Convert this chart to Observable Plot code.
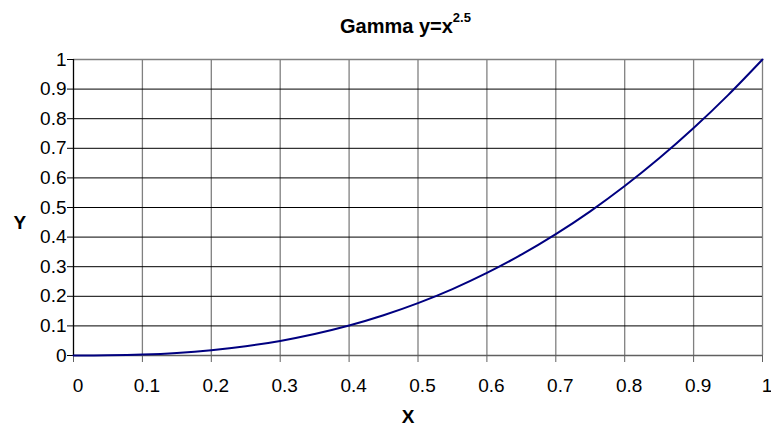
<!DOCTYPE html>
<html>
<head>
<meta charset="utf-8">
<script src="https://cdn.jsdelivr.net/npm/d3@7"></script>
<script src="https://cdn.jsdelivr.net/npm/@observablehq/plot@0.6"></script>
<style>
  html, body { margin: 0; padding: 0; background: #fff; }
  #chart { width: 771px; height: 429px; }
</style>
</head>
<body>
<div id="chart"></div>
<script>
const xs = [0, 0.05, 0.1, 0.15, 0.2, 0.25, 0.3, 0.35, 0.4, 0.45, 0.5, 0.55, 0.6, 0.65, 0.7, 0.75, 0.8, 0.85, 0.9, 0.95, 1];
const ys = [0, 0.0006, 0.0032, 0.0087, 0.0179, 0.0313, 0.0493, 0.0725, 0.1012, 0.1359, 0.1768, 0.2243, 0.2789, 0.3407, 0.41, 0.4871, 0.5724, 0.6661, 0.7684, 0.8797, 1];
const tickVals = [0, 0.1, 0.2, 0.3, 0.4, 0.5, 0.6, 0.7, 0.8, 0.9, 1];

const data = xs.map((x, i) => ({x, y: ys[i]}));
const fmt = d => d === 0 ? "0" : d === 1 ? "1" : d3.format(".1f")(d);
const FONT = "'Liberation Sans', Arial, sans-serif";

const plot = Plot.plot({
  width: 771,
  height: 429,
  marginLeft: 73,
  marginRight: 9,
  marginTop: 59,
  marginBottom: 74,
  style: {fontFamily: FONT, fontSize: "19px", color: "#000", background: "#fff"},
  x: {domain: [0, 1], label: null},
  y: {domain: [0, 1], label: null},
  marks: [
    Plot.ruleX(tickVals.slice(1), {stroke: "#808080", strokeWidth: 1.3}),
    Plot.ruleY(tickVals.slice(1, -1), {stroke: "#000", strokeWidth: 1}),
    Plot.ruleY([1], {stroke: "#808080", strokeWidth: 1.3}),
    Plot.ruleY([0], {stroke: "#606060", strokeWidth: 1.3}),
    Plot.ruleX([0], {stroke: "#000", strokeWidth: 1.3}),
    Plot.axisX({ticks: tickVals, tickFormat: () => "", tickSize: 7, stroke: "#606060", label: null}),
    Plot.axisX({ticks: tickVals, tickFormat: fmt, tickSize: 0, tickPadding: 23, label: null, fontSize: 19, dx: 4.5}),
    Plot.axisY({ticks: tickVals, tickFormat: fmt, tickSize: 6, tickPadding: 1, stroke: "#000", label: null, fontSize: 19}),
    Plot.line(data, {x: "x", y: "y", stroke: "#000080", strokeWidth: 2, curve: "catmull-rom"}),
    Plot.text(["X"], {frameAnchor: "bottom", dx: -10, dy: 67, fontWeight: "bold", fontSize: 19}),
    Plot.text(["Y"], {frameAnchor: "left", dx: -60, dy: 15, fontWeight: "bold", fontSize: 19})
  ]
});
document.getElementById("chart").appendChild(plot);

const svg = d3.select(plot);
const t = svg.append("text")
  .attr("x", 340).attr("y", 33)
  .attr("text-anchor", "start")
  .attr("font-family", FONT)
  .attr("font-weight", "bold")
  .attr("font-size", 20)
  .attr("fill", "#000");
t.append("tspan").text("Gamma y=x");
t.append("tspan").attr("dy", -11).attr("font-size", 13).text("2.5");

// force layout of all texts
plot.querySelectorAll("text").forEach(el => { el.getBBox(); getComputedStyle(el).fontSize; });
</script>
</body>
</html>
